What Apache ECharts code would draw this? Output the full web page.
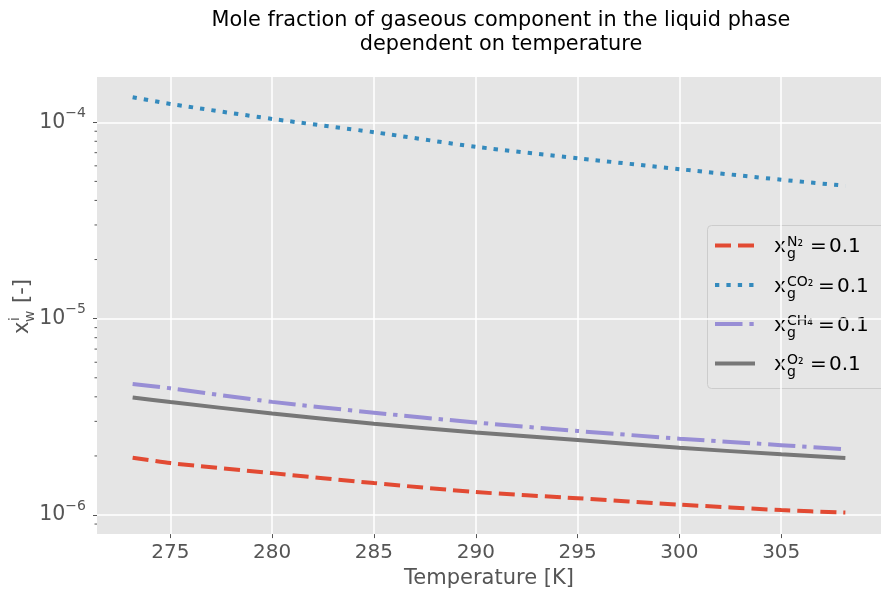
<!DOCTYPE html>
<html>
<head>
<meta charset="utf-8">
<script src="https://cdn.jsdelivr.net/npm/echarts@6/dist/echarts.min.js"></script>
<style>
  html, body { margin: 0; padding: 0; background: #fff; }
  #chart { width: 881px; height: 594px; }
</style>
</head>
<body>
<div id="chart"></div>
<script>
// temperatures [K] and mole fractions
const temps = [273.15, 275, 280, 285, 290, 295, 300, 305, 308.15]
const n2 = [1.96e-6, 1.84e-6, 1.635e-6, 1.455e-6, 1.31e-6, 1.218e-6, 1.13e-6, 1.06e-6, 1.03e-6]
const co2 = [1.34e-4, 1.24e-4, 1.04e-4, 8.9e-5, 7.5e-5, 6.56e-5, 5.77e-5, 5.1e-5, 4.75e-5]
const ch4 = [4.65e-6, 4.42e-6, 3.77e-6, 3.32e-6, 2.96e-6, 2.68e-6, 2.45e-6, 2.27e-6, 2.16e-6]
const o2 = [3.97e-6, 3.76e-6, 3.29e-6, 2.92e-6, 2.63e-6, 2.41e-6, 2.20e-6, 2.04e-6, 1.955e-6]

const xTicks = [275, 280, 285, 290, 295, 300, 305]
const yTicks = [1e-6, 1e-5, 1e-4]
const yMinorTicks = [9e-7, 2e-6, 3e-6, 4e-6, 5e-6, 6e-6, 7e-6, 8e-6, 9e-6,
  2e-5, 3e-5, 4e-5, 5e-5, 6e-5, 7e-5, 8e-5, 9e-5]
const gases = ['N₂', 'CO₂', 'CH₄', 'O₂']

const X_MIN = 271.4
const X_MAX = 309.9
const FONT = 'DejaVu Sans'
const colors = ['#E24A33', '#348ABD', '#988ED5', '#777777']
const dashes = [[16, 7], [4.3, 7.1], [27.5, 6.9, 4.3, 6.9], null]

const zip = ys => temps.map((t, i) => [t, ys[i]])

const lineSeries = [n2, co2, ch4, o2].map((ys, i) => ({
  type: 'line',
  data: zip(ys),
  showSymbol: false,
  smooth: 0.25,
  lineStyle: { color: colors[i], width: 4, type: dashes[i] || 'solid', cap: 'butt' },
  z: 3
}))

// minor log ticks, drawn on the y scale
const minorTickSeries = {
  type: 'custom',
  data: yMinorTicks.map(v => [X_MIN, v]),
  clip: false,
  silent: true,
  renderItem: (params, api) => {
    const p = api.coord([api.value(0), api.value(1)])
    return {
      type: 'line',
      shape: { x1: p[0] - 2.5, y1: p[1], x2: p[0], y2: p[1] },
      style: { stroke: '#555', lineWidth: 1 }
    }
  }
}

const txt = (x, y, text, size, fill) => ({
  type: 'text', x, y,
  style: { text, fontFamily: FONT, fontSize: size, fill, textVerticalAlign: 'middle' }
})

// legend drawn by hand so the sub/superscripts can stack
const legendGraphic = () => {
  const children = [{
    type: 'rect',
    shape: { x: 707.5, y: 225.5, width: 200, height: 163, r: 4 },
    style: { fill: 'rgba(229,229,229,0.9)', stroke: '#cccccc', lineWidth: 1 }
  }]
  const rows = [245.5, 285, 324, 363.5]
  const eqX = [810, 818, 818, 810]
  gases.forEach((g, i) => {
    const y = rows[i]
    children.push({
      type: 'line',
      shape: { x1: 715, y1: y, x2: 755, y2: y },
      style: { stroke: colors[i], lineWidth: 4, lineDash: dashes[i] || null }
    })
    children.push(txt(774, y + 1.5, 'x', 20, '#000'))
    children.push(txt(787, y + 9, 'g', 14, '#000'))
    children.push(txt(787, y - 3, g, 14, '#000'))
    children.push(txt(eqX[i], y + 1.5, '=', 20, '#000'))
    children.push(txt(eqX[i] + 19, y + 1.5, '0.1', 20, '#000'))
  })
  return { type: 'group', children, z: 100 }
}

// rotated y axis name  x_w^i [-]
const yNameGraphic = {
  type: 'group',
  x: 33, y: 334,
  rotation: Math.PI / 2,
  children: [
    { type: 'text', x: 0, y: 0, style: { text: 'x', fontFamily: FONT, fontSize: 21, fill: '#555', textVerticalAlign: 'bottom' } },
    { type: 'text', x: 12, y: 4, style: { text: 'w', fontFamily: FONT, fontSize: 14, fill: '#555', textVerticalAlign: 'bottom' } },
    { type: 'text', x: 13, y: -11, style: { text: 'i', fontFamily: FONT, fontSize: 14, fill: '#555', textVerticalAlign: 'bottom' } },
    { type: 'text', x: 31, y: 0, style: { text: '[-]', fontFamily: FONT, fontSize: 21, fill: '#555', textVerticalAlign: 'bottom' } }
  ]
}

const chart = echarts.init(document.getElementById('chart'))

const option = {
  animation: false,
  backgroundColor: '#fff',
  textStyle: { fontFamily: FONT },
  title: {
    text: 'Mole fraction of gaseous component in the liquid phase\ndependent on temperature',
    left: 496,
    top: 4,
    textAlign: 'center',
    textStyle: { fontFamily: FONT, fontSize: 20.8, fontWeight: 'normal', color: '#000', lineHeight: 24 }
  },
  grid: { left: 97, top: 77, right: -13, bottom: 56, show: true, backgroundColor: '#E5E5E5', borderWidth: 0 },
  xAxis: {
    type: 'value',
    min: X_MIN,
    max: X_MAX,
    name: 'Temperature [K]',
    nameLocation: 'middle',
    nameGap: 33,
    nameTextStyle: { fontFamily: FONT, fontSize: 21, color: '#555' },
    axisLine: { show: false },
    axisTick: { show: true, length: 4, lineStyle: { color: '#555' }, customValues: xTicks },
    axisLabel: { fontFamily: FONT, fontSize: 20, color: '#555', margin: 9, customValues: xTicks },
    splitLine: { show: true, lineStyle: { color: '#fff', width: 1.5 } }
  },
  yAxis: {
    type: 'log',
    logBase: 10,
    min: 8.0e-7,
    max: 1.70e-4,
    axisLine: { show: false },
    axisTick: { show: true, length: 4, lineStyle: { color: '#555' }, customValues: yTicks },
    axisLabel: {
      customValues: yTicks,
      margin: 11,
      formatter: v => '{b|10}{s|−' + Math.round(-Math.log10(v)) + '}',
      rich: {
        b: { fontFamily: FONT, fontSize: 20.5, color: '#555', lineHeight: 32 },
        s: { fontFamily: FONT, fontSize: 14, color: '#555', verticalAlign: 'top', lineHeight: 14 }
      }
    },
    splitLine: { show: true, lineStyle: { color: '#fff', width: 1.5 } }
  },
  series: [...lineSeries, minorTickSeries],
  graphic: [legendGraphic(), yNameGraphic]
}

chart.setOption(option)
</script>
</body>
</html>
